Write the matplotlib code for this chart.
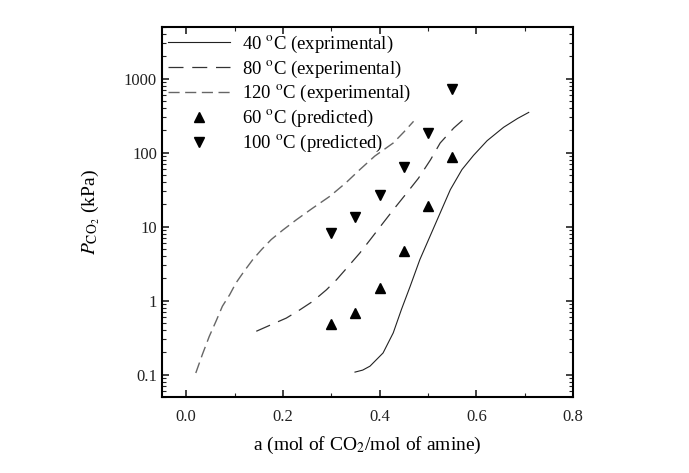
import matplotlib
matplotlib.use("Agg")
import matplotlib.pyplot as plt
from matplotlib.ticker import MultipleLocator, LogLocator, NullFormatter

plt.rcParams["font.family"] = ["Liberation Serif", "DejaVu Serif"]
plt.rcParams["mathtext.fontset"] = "stix"

# 40 C experimental
a_40 = [0.349, 0.365, 0.380, 0.407, 0.428, 0.445, 0.463, 0.483, 0.504, 0.525,
        0.546, 0.570, 0.594, 0.622, 0.656, 0.685, 0.708]
p_40 = [0.108, 0.115, 0.13, 0.196, 0.366, 0.76, 1.56, 3.58, 7.4, 15.3,
        31.6, 59.0, 92.0, 145.0, 220.0, 290.0, 350.0]
# 80 C experimental
a_80 = [0.145, 0.175, 0.207, 0.235, 0.262, 0.290, 0.311, 0.335, 0.359, 0.383,
        0.407, 0.430, 0.456, 0.480, 0.505, 0.525, 0.553, 0.584]
p_80 = [0.385, 0.47, 0.58, 0.75, 0.98, 1.4, 1.92, 2.9, 4.4, 7.0,
        11.2, 17.5, 28.5, 45.0, 80.0, 135.0, 215.0, 325.0]
# 120 C experimental
a_120 = [0.020, 0.034, 0.048, 0.062, 0.075, 0.090, 0.103, 0.120, 0.138, 0.156,
         0.176, 0.200, 0.228, 0.260, 0.297, 0.330, 0.359, 0.390, 0.428, 0.450, 0.470]
p_120 = [0.105, 0.19, 0.33, 0.53, 0.84, 1.2, 1.73, 2.5, 3.6, 4.9,
         6.7, 9.0, 12.4, 17.5, 25.7, 39.0, 59.0, 90.0, 135.0, 190.0, 265.0]
# 60 C predicted
a_60 = [0.30, 0.35, 0.40, 0.45, 0.50, 0.55]
p_60 = [0.49, 0.67, 1.5, 4.7, 19.0, 86.0]
# 100 C predicted
a_100 = [0.30, 0.35, 0.40, 0.45, 0.50, 0.55]
p_100 = [8.3, 13.5, 27.0, 63.0, 186.0, 733.0]

fig = plt.figure(figsize=(6.89, 4.73), dpi=100)
ax = fig.add_axes([0.235, 0.161, 0.597, 0.782])

ax.plot(a_40, p_40, "-", color="#222222", lw=0.8, label="40 $^{\\rm o}$C (exprimental)")
ax.plot(a_80, p_80, color="#333333", lw=0.9, dashes=(12, 7), label="80 $^{\\rm o}$C (experimental)")
ax.plot(a_120, p_120, color="#666666", lw=1.0, dashes=(8, 4), label="120 $^{\\rm o}$C (experimental)")
ax.plot(a_60, p_60, "^", color="black", ms=7, ls="none", label="60 $^{\\rm o}$C (predicted)")
ax.plot(a_100, p_100, "v", color="black", ms=7, ls="none", label="100 $^{\\rm o}$C (predicted)")

ax.set_yscale("log")
ax.set_xlim(-0.05, 0.8)
ax.set_ylim(0.05, 5000)
ax.xaxis.set_minor_locator(MultipleLocator(0.1))
ax.yaxis.set_minor_locator(LogLocator(base=10, subs=range(2, 10), numticks=20))
ax.yaxis.set_minor_formatter(NullFormatter())
ax.set_yticks([0.1, 1, 10, 100, 1000])
ax.set_yticklabels(["0.1", "1", "10", "100", "1000"])
ax.set_xticks([0.0, 0.2, 0.4, 0.6, 0.8])
ax.set_xticklabels(["0.0", "0.2", "0.4", "0.6", "0.8"])

ax.tick_params(which="both", direction="in", top=True, right=True, labelsize=12, colors="#222222")
ax.tick_params(axis="x", which="major", pad=9)
ax.tick_params(which="major", length=5, width=1.2)
ax.tick_params(which="minor", length=3, width=0.8)
for s in ax.spines.values():
    s.set_linewidth(1.5)

ax.set_xlabel("a (mol of CO$_2$/mol of amine)", fontsize=14, labelpad=7)
ax.set_ylabel("$P_{\\mathrm{CO_2}}$ (kPa)", fontsize=14, labelpad=16)

ax.legend(loc="upper left", frameon=False, fontsize=13.5, handlelength=3.3,
          borderaxespad=0.1, borderpad=0.25, labelspacing=0.2, handletextpad=0.6)

fig.savefig("out.png", dpi=100)
